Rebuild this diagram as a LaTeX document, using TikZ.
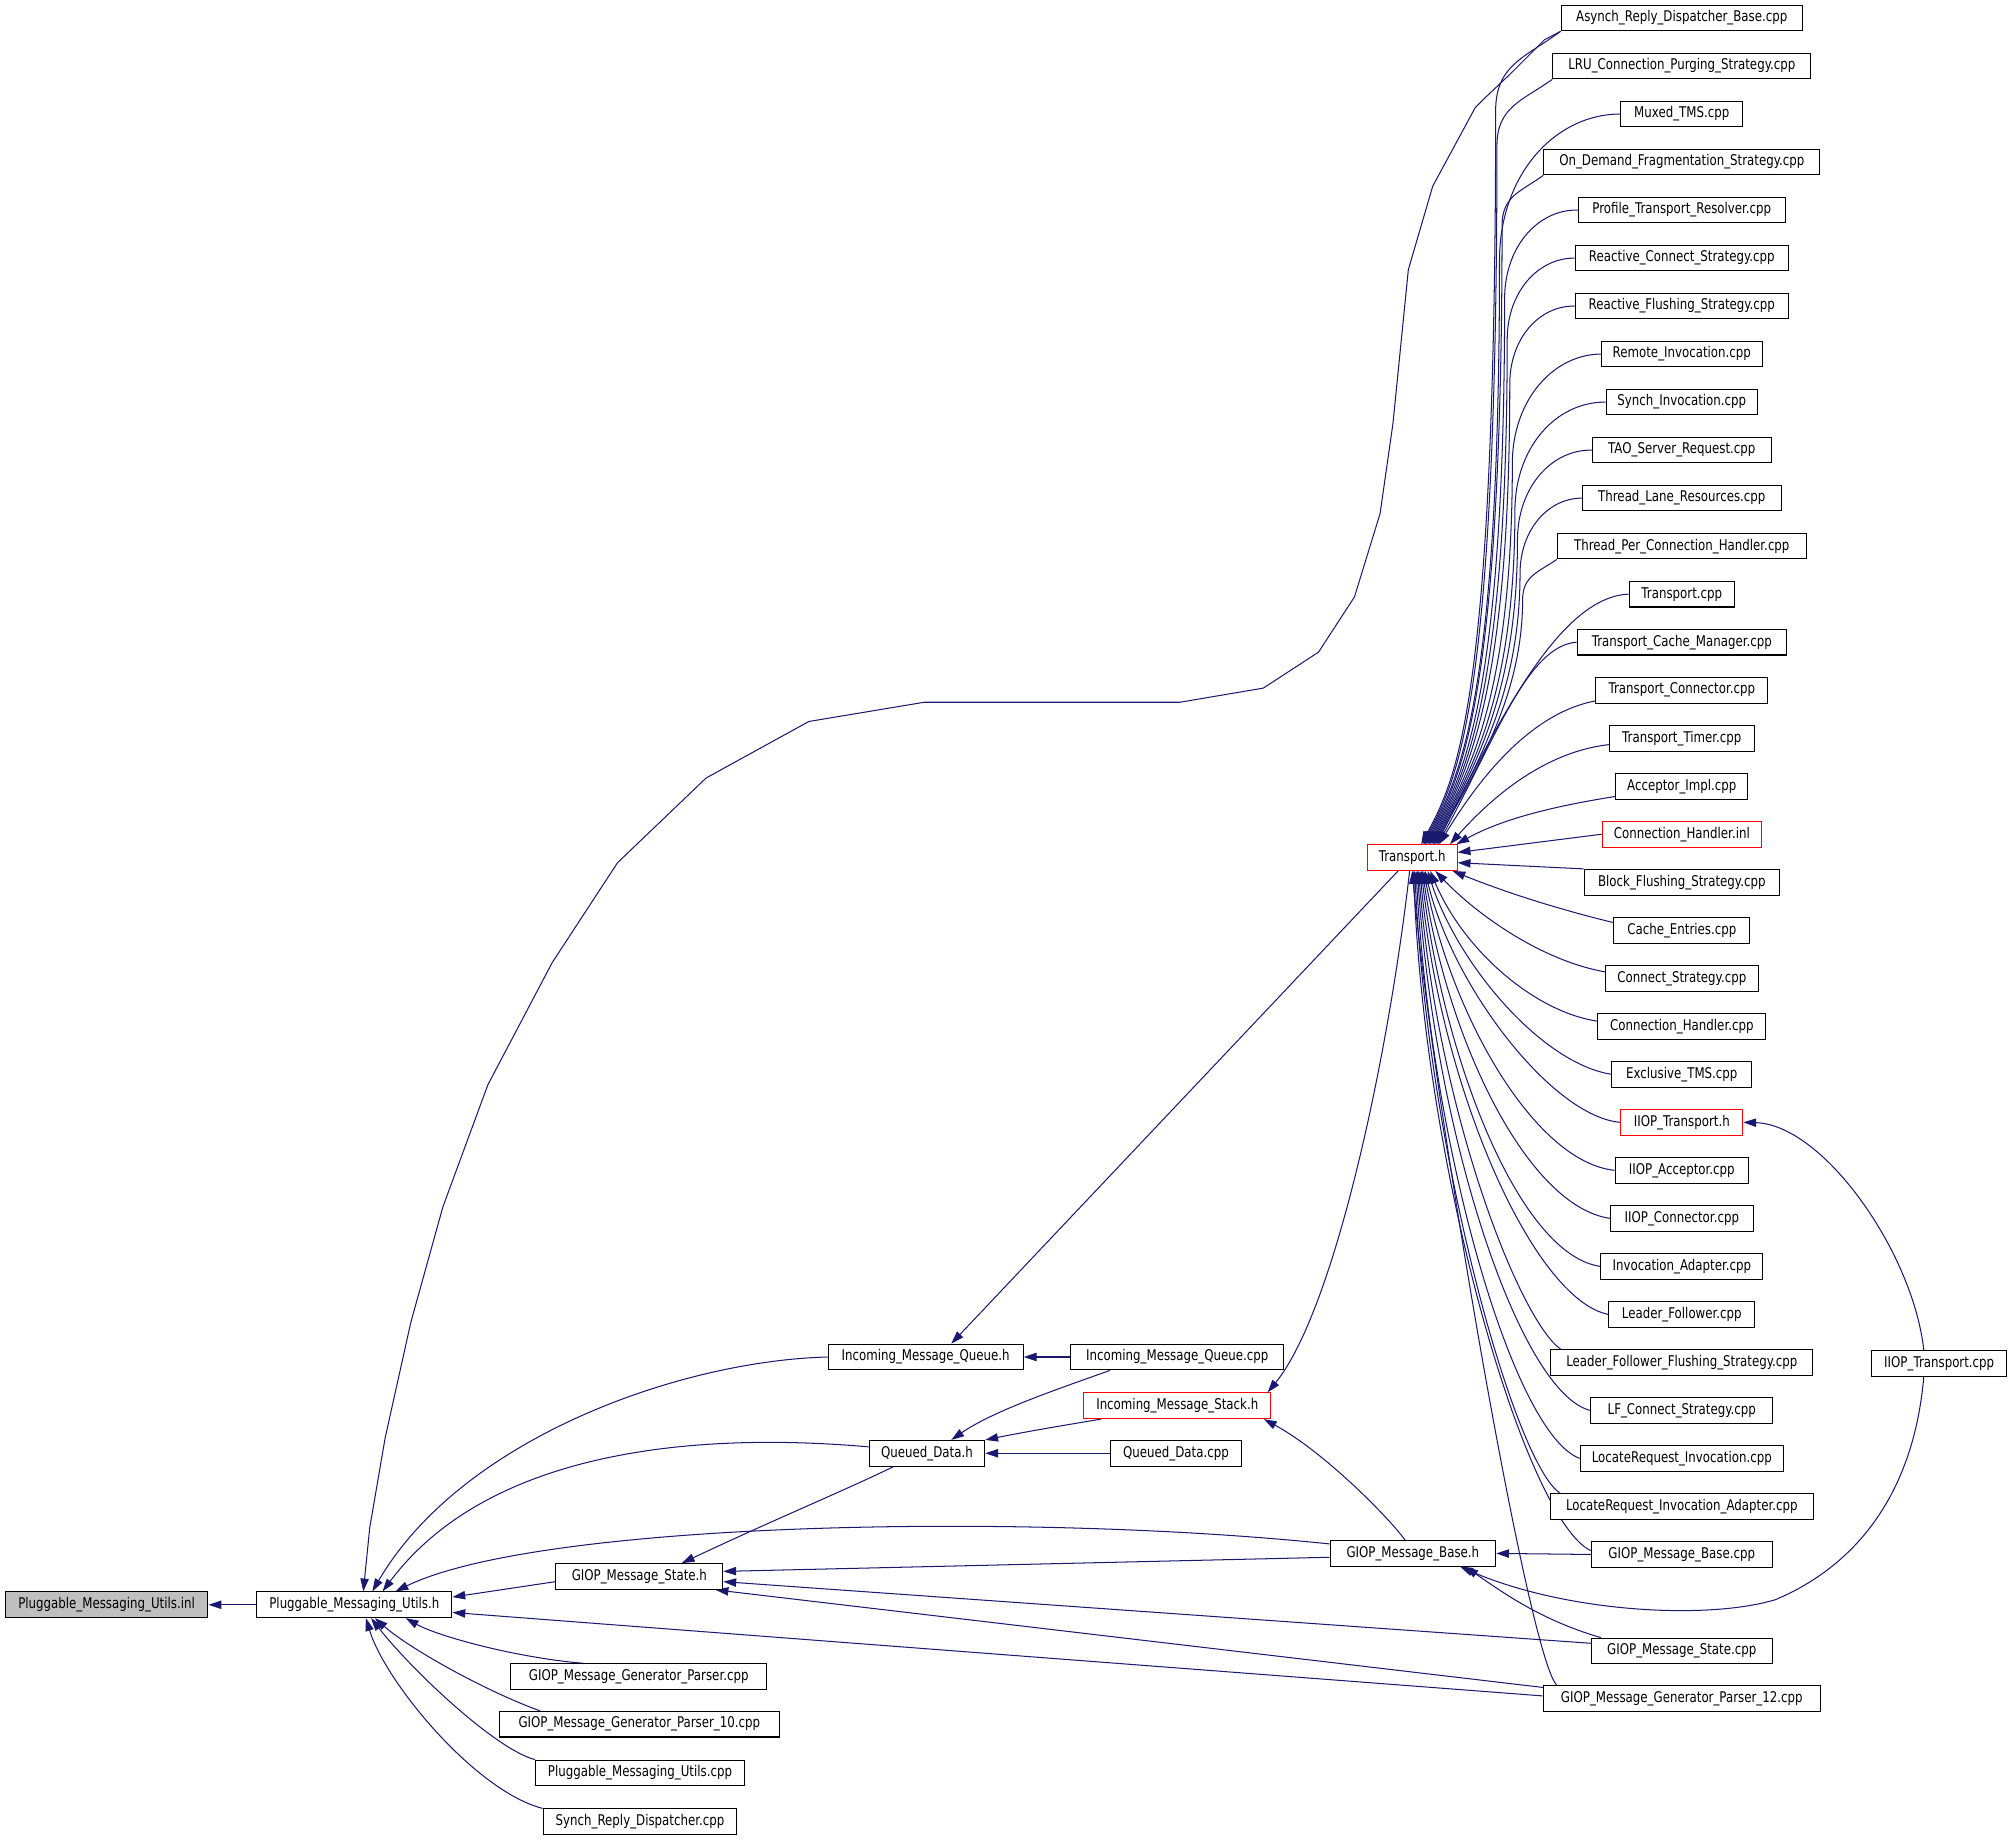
\documentclass[tikz,border=0pt]{standalone}
\usepackage{fontspec}
\newfontfamily\nf[FakeStretch=0.8]{DejaVu Sans}
\usetikzlibrary{arrows.meta,calc}
\definecolor{navyc}{HTML}{191970}
\definecolor{grayfill}{HTML}{BFBFBF}
\pgfdeclarelayer{bg}
\pgfsetlayers{bg,main}
\tikzset{
  box/.style={draw=black, line width=0.8pt, fill=white, minimum height=20pt, inner xsep=4pt, inner ysep=0pt, font={\nf\fontsize{11.5}{13}\selectfont}, text=black},
  redbox/.style={box, draw=red},
  edge/.style={draw=navyc, line width=0.8pt, -{Triangle[length=10pt,width=6.5pt]}},
}
\newcommand\upE[6]{%
\draw[edge] (#1) .. controls ({#2-0.55*(#2-#4)},{#3+#6*(#2-#4)}) and (#4,{#3+0.5*(#2-#4)}) .. (#4,{#3+1.2*(#2-#4)}) .. controls (#4,545) and ($(T.north)+(#5+28,-52)$) .. ($(T.north)+(#5,0)$);}
\begin{document}
\begin{tikzpicture}[x=1pt,y=-1pt]
\useasboundingbox (0,0) rectangle (1568,1432.5);
% left / middle nodes
\node[box, fill=grayfill, minimum width=158pt] (pmuinl) at (83,1250) {Pluggable\_Messaging\_Utils.inl};
\node[box, minimum width=152pt] (pmuh) at (276,1250) {Pluggable\_Messaging\_Utils.h};
\node[box, minimum width=152pt] (imqh) at (721,1057) {Incoming\_Message\_Queue.h};
\node[box, minimum width=166pt] (imqcpp) at (917,1057) {Incoming\_Message\_Queue.cpp};
\node[redbox, minimum width=146pt] (imsh) at (917,1095) {Incoming\_Message\_Stack.h};
\node[box, minimum width=90pt] (qdh) at (722,1132) {Queued\_Data.h};
\node[box, minimum width=102pt] (qdcpp) at (916,1132) {Queued\_Data.cpp};
\node[box, minimum width=130pt] (gmsh) at (498,1228) {GIOP\_Message\_State.h};
\node[box, minimum width=199pt] (gmgp) at (497.5,1306) {GIOP\_Message\_Generator\_Parser.cpp};
\node[box, minimum width=218pt] (gmgp10) at (498,1343) {GIOP\_Message\_Generator\_Parser\_10.cpp};
\node[box, minimum width=163pt] (pmucpp) at (498.5,1381) {Pluggable\_Messaging\_Utils.cpp};
\node[box, minimum width=151pt] (srd) at (498.5,1419) {Synch\_Reply\_Dispatcher.cpp};
\node[redbox, minimum width=70pt] (T) at (1100,668) {Transport.h};
\node[box, minimum width=129pt] (gmbh) at (1100.5,1210) {GIOP\_Message\_Base.h};
\node[box, minimum width=105pt] (iiopcpp) at (1510.5,1062) {IIOP\_Transport.cpp};
% right column
\node[box, minimum width=188pt] (asy) at (1310,14) {Asynch\_Reply\_Dispatcher\_Base.cpp};
\node[box, minimum width=201pt] (lru) at (1310,51.4) {LRU\_Connection\_Purging\_Strategy.cpp};
\node[box, minimum width=95pt] (mux) at (1310,88.8) {Muxed\_TMS.cpp};
\node[box, minimum width=215pt] (odf) at (1310,126.2) {On\_Demand\_Fragmentation\_Strategy.cpp};
\node[box, minimum width=161pt] (ptr) at (1310,163.6) {Profile\_Transport\_Resolver.cpp};
\node[box, minimum width=166pt] (rcs) at (1310,201) {Reactive\_Connect\_Strategy.cpp};
\node[box, minimum width=166pt] (rfs) at (1310,238.4) {Reactive\_Flushing\_Strategy.cpp};
\node[box, minimum width=125pt] (ri) at (1310,275.8) {Remote\_Invocation.cpp};
\node[box, minimum width=118pt] (si) at (1310,313.2) {Synch\_Invocation.cpp};
\node[box, minimum width=139pt] (tsr) at (1310,350.6) {TAO\_Server\_Request.cpp};
\node[box, minimum width=155pt] (tlr) at (1310,388) {Thread\_Lane\_Resources.cpp};
\node[box, minimum width=194pt] (tpch) at (1310,425.4) {Thread\_Per\_Connection\_Handler.cpp};
\node[box, minimum width=82pt] (tcpp) at (1310,462.8) {Transport.cpp};
\node[box, minimum width=163pt] (tcm) at (1310,500.2) {Transport\_Cache\_Manager.cpp};
\node[box, minimum width=134pt] (tcon) at (1310,537.6) {Transport\_Connector.cpp};
\node[box, minimum width=113pt] (tt) at (1310,575) {Transport\_Timer.cpp};
\node[box, minimum width=103pt] (ai) at (1310,612.4) {Acceptor\_Impl.cpp};
\node[redbox, minimum width=124pt] (chinl) at (1310,649.8) {Connection\_Handler.inl};
\node[box, minimum width=152pt] (bfs) at (1310,687.2) {Block\_Flushing\_Strategy.cpp};
\node[box, minimum width=106pt] (ce) at (1310,724.6) {Cache\_Entries.cpp};
\node[box, minimum width=119pt] (cs) at (1310,762) {Connect\_Strategy.cpp};
\node[box, minimum width=131pt] (chcpp) at (1310,799.4) {Connection\_Handler.cpp};
\node[box, minimum width=109pt] (etms) at (1310,836.8) {Exclusive\_TMS.cpp};
\node[redbox, minimum width=95pt] (iioph) at (1310,874.2) {IIOP\_Transport.h};
\node[box, minimum width=104pt] (iacc) at (1310,911.6) {IIOP\_Acceptor.cpp};
\node[box, minimum width=111pt] (icon) at (1310,949) {IIOP\_Connector.cpp};
\node[box, minimum width=126pt] (ia) at (1310,986.4) {Invocation\_Adapter.cpp};
\node[box, minimum width=114pt] (lf) at (1310,1023.8) {Leader\_Follower.cpp};
\node[box, minimum width=204pt] (lffs) at (1310,1061.2) {Leader\_Follower\_Flushing\_Strategy.cpp};
\node[box, minimum width=142pt] (lfcs) at (1310,1098.6) {LF\_Connect\_Strategy.cpp};
\node[box, minimum width=158pt] (lri) at (1310,1136) {LocateRequest\_Invocation.cpp};
\node[box, minimum width=205pt] (lria) at (1310,1173.4) {LocateRequest\_Invocation\_Adapter.cpp};
\node[box, minimum width=141pt] (gmbcpp) at (1310,1210.8) {GIOP\_Message\_Base.cpp};
\node[box, minimum width=141pt] (gmscpp) at (1310,1286) {GIOP\_Message\_State.cpp};
\node[box, minimum width=216pt] (gmgp12) at (1310,1323) {GIOP\_Message\_Generator\_Parser\_12.cpp};

\begin{pgfonlayer}{bg}
% into Pluggable_Messaging_Utils.inl / .h
\draw[edge] (pmuh.west) -- (pmuinl.east);
\draw[edge] ($(gmsh.west)+(0,4)$) -- ($(pmuh.east)+(0,-6)$);
\draw[edge] ($(gmgp.north)+(-43,0)$) .. controls (400,1291) and (340,1274) .. ($(pmuh.south)+(40,0)$);
\draw[edge] ($(gmgp10.north west)+(32,0)$) .. controls (380,1318) and (320,1285) .. ($(pmuh.south)+(16,0)$);
\draw[edge] (pmucpp.north west) .. controls (385,1362) and (320,1300) .. ($(pmuh.south)+(13,0)$);
\draw[edge] (srd.north west) .. controls (370,1395) and (300,1310) .. ($(pmuh.south)+(9,0)$);
\draw[edge] (imqh.west) .. controls (530,1060) and (360,1120) .. ($(pmuh.north)+(14,0)$);
\draw[edge] ($(qdh.west)+(0,-5)$) .. controls (540,1115) and (380,1130) .. ($(pmuh.north)+(22,0)$);
\draw[edge] ($(gmbh.north west)+(0,3)$) .. controls (800,1178) and (420,1185) .. ($(pmuh.north)+(32,0)$);
\draw[edge] ($(gmgp12.west)+(0,-2)$) -- ($(pmuh.east)+(0,6)$);
\draw[edge] (asy.south west) -- (1203,31) -- (1176,58) -- (1158,75) -- (1149,84) -- (1116,145) -- (1097,210) -- (1085,330) -- (1075,400) -- (1055,465) -- (1027,508) -- (984,536) -- (919,547) -- (720,547) -- (630,562) -- (550,606) -- (481,672) -- (430,750) -- (380,845) -- (345,940) -- (320,1030) -- (300,1120) -- (288,1190) -- ($(pmuh.north)+(7,0)$);
% middle
\draw[edge] ($(T.south)+(-11,0)$) -- ($(imqh.north)+(20,0)$);
\draw[edge] (imqcpp.west) -- (imqh.east);
\draw[edge] ($(imqcpp.south west)+(31,0)$) .. controls (830,1080) and (775,1098) .. ($(qdh.north)+(19,0)$);
\draw[edge] ($(imsh.south west)+(14,0)$) .. controls (830,1110) and (800,1115) .. (qdh.north east);
\draw[edge] (qdcpp.west) -- (qdh.east);
\draw[edge] ($(qdh.south)+(-26,0)$) .. controls (660,1160) and (600,1185) .. ($(gmsh.north)+(33,0)$);
\draw[edge] ($(T.south)+(-2,0)$) .. controls (1082,820) and (1040,1020) .. ($(imsh.north east)+(-3,0)$);
\draw[edge] ($(gmbh.north)+(-6,0)$) .. controls (1080,1180) and (1030,1130) .. ($(imsh.south east)+(-6,0)$);
\draw[edge] ($(gmbh.west)+(0,3)$) -- ($(gmsh.east)+(0,-4)$);
\draw[edge] ($(gmscpp.west)+(0,-6)$) -- ($(gmsh.east)+(0,4)$);
\draw[edge] ($(gmgp12.north west)+(2,2)$) -- ($(gmsh.south east)+(-6,0)$);
\draw[edge] (gmbcpp.west) -- (gmbh.east);
\draw[edge] ($(gmscpp.north west)+(8,0)$) .. controls (1200,1262) and (1170,1240) .. ($(gmbh.south east)+(-24,0)$);
\draw[edge] ($(iiopcpp.south)+(-12,0)$) .. controls (1490,1170) and (1440,1222) .. (1383,1246) .. controls (1330,1262) and (1220,1256) .. ($(gmbh.south east)+(-28,0)$);
\draw[edge] ($(iiopcpp.north)+(-12,0)$) .. controls (1490,975) and (1420,876) .. (iioph.east);
% fan into Transport.h from above
\upE{asy.south west}{1217}{24}{1165}{7}{0.4}
\upE{lru.south west}{1210}{61}{1166}{8}{0.4}
\upE{mux.west}{1263}{89}{1168}{9}{0}
\upE{odf.south west}{1203}{136}{1170}{10}{0.4}
\upE{ptr.west}{1230}{163}{1172}{11}{0}
\upE{rcs.west}{1227}{201}{1174}{12}{0}
\upE{rfs.west}{1227}{238}{1176}{13}{0}
\upE{ri.west}{1249}{276}{1178}{14}{0}
\upE{si.west}{1251}{313}{1180}{15}{0}
\upE{tsr.west}{1241}{350}{1182}{16}{0}
\upE{tlr.west}{1233}{388}{1184}{17}{0}
\upE{tpch.south west}{1213}{435}{1186}{18}{0.4}
\draw[edge] (tcpp.west) .. controls (1215,465) and (1168,560) .. ($(T.north)+(19,0)$);
\draw[edge] (tcm.west) .. controls (1190,503) and (1165,575) .. ($(T.north)+(20,0)$);
\draw[edge] ($(tcon.south west)+(0,-2)$) .. controls (1205,553) and (1165,585) .. ($(T.north)+(21,0)$);
\draw[edge] ($(tt.west)+(0,5)$) .. controls (1210,585) and (1170,612) .. ($(T.north east)+(-6,0)$);
\draw[edge] ($(ai.west)+(0,8)$) .. controls (1210,628) and (1170,638) .. ($(T.north east)+(-1,0)$);
\draw[edge] (chinl.west) -- ($(T.east)+(0,-4)$);
\draw[edge] (bfs.north west) -- ($(T.east)+(0,4)$);
% fan into Transport.h from below
\draw[edge] ($(ce.west)+(0,-6)$) .. controls (1205,706) and (1165,692) .. ($(T.south east)+(-4,0)$);
\draw[edge] ($(cs.west)+(0,-5)$) .. controls (1200,748) and (1150,712) .. ($(T.south)+(18,0)$);
\draw[edge] ($(chcpp.west)+(0,-4)$) .. controls (1195,788) and (1140,740) .. ($(T.south)+(14,0)$);
\draw[edge] (etms.west) .. controls (1200,828) and (1135,750) .. ($(T.south)+(12,0)$);
\draw[edge] (iioph.west) .. controls (1210,870) and (1132,770) .. ($(T.south)+(10,0)$);
\draw[edge] (iacc.west) .. controls (1195,905) and (1130,790) .. ($(T.south)+(9,0)$);
\draw[edge] (icon.west) .. controls (1190,940) and (1127,810) .. ($(T.south)+(8,0)$);
\draw[edge] (ia.west) .. controls (1185,978) and (1125,830) .. ($(T.south)+(7,0)$);
\draw[edge] (lf.west) .. controls (1195,1012) and (1122,850) .. ($(T.south)+(6,0)$);
\draw[edge] ($(lffs.north west)+(8,0)$) .. controls (1185,1030) and (1120,870) .. ($(T.south)+(5,0)$);
\draw[edge] (lfcs.west) .. controls (1185,1085) and (1118,890) .. ($(T.south)+(4,0)$);
\draw[edge] (lri.west) .. controls (1180,1118) and (1115,900) .. ($(T.south)+(3,0)$);
\draw[edge] ($(lria.north west)+(8,0)$) .. controls (1180,1140) and (1112,900) .. ($(T.south)+(2,0)$);
\draw[edge] ($(gmbcpp.west)+(0,-3)$) .. controls (1190,1185) and (1110,920) .. ($(T.south)+(1,0)$);
\draw[edge] ($(gmgp12.north west)+(11,0)$) .. controls (1190,1290) and (1115,850) .. (T.south);
\end{pgfonlayer}
\end{tikzpicture}
\end{document}
